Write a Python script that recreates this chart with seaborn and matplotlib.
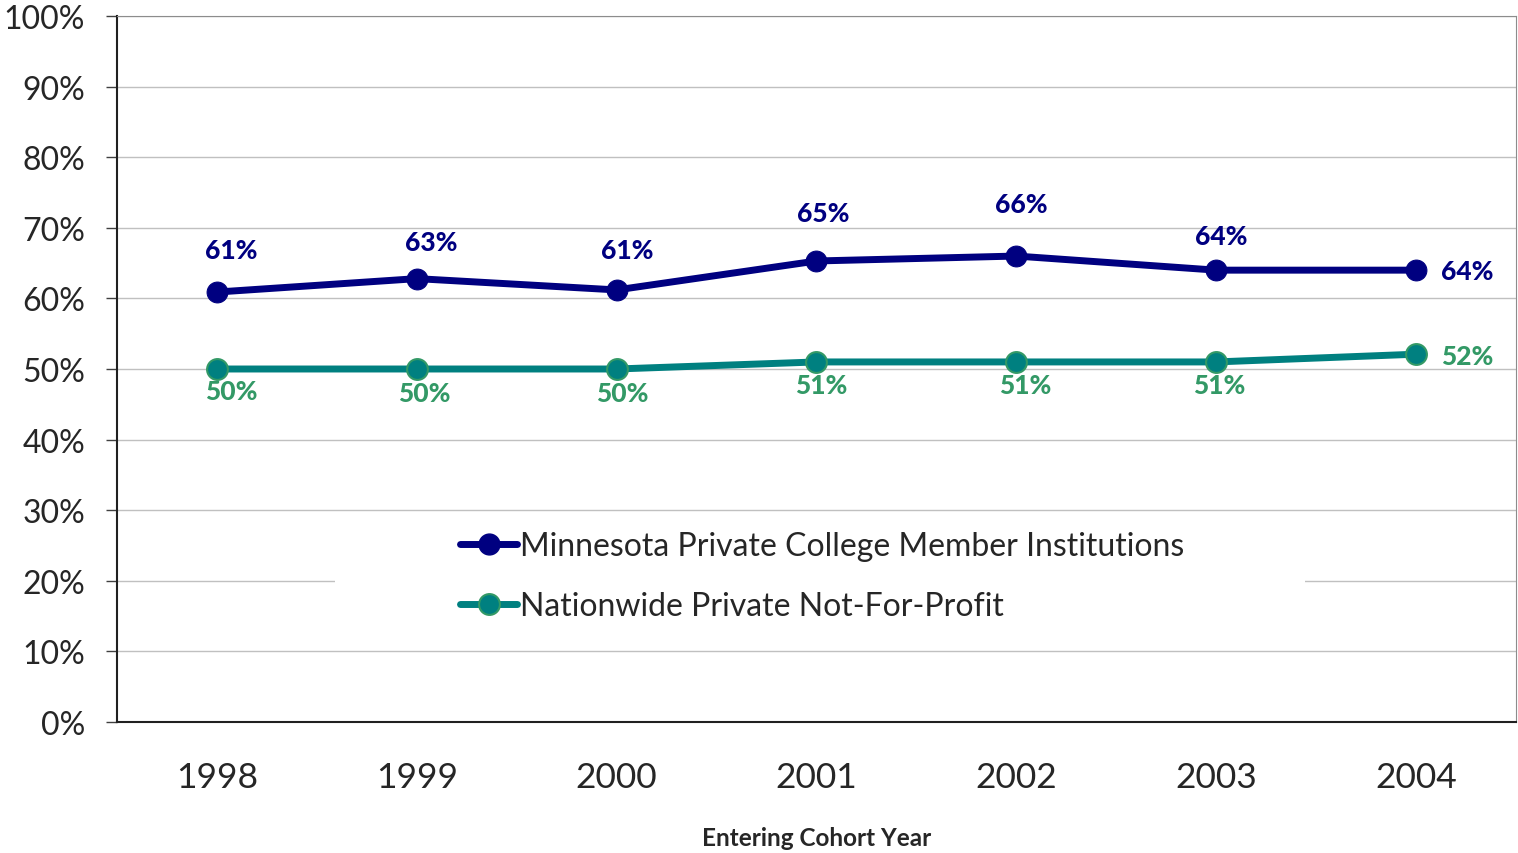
import numpy as np
import pandas as pd
import matplotlib
matplotlib.use('Agg')
import matplotlib.pyplot as plt
import seaborn as sns
from matplotlib.lines import Line2D
from matplotlib.patches import Rectangle

# data
years = ['1998', '1999', '2000', '2001', '2002', '2003', '2004']
minnesota = [60.9, 62.8, 61.2, 65.3, 66.0, 64.0, 64.0]
nationwide = [50.0, 50.0, 50.0, 51.0, 51.0, 51.0, 52.1]
mn_name = 'Minnesota Private College Member Institutions'
nat_name = 'Nationwide Private Not-For-Profit'

# label nudges (pixels), labels were hand-placed in the original
mn_offsets = [(14, 42), (14, 37), (11, 40), (7, 48), (5, 52), (5, 34)]
nat_offsets = [(14, -22), (8, -24), (6, -24), (5, -23), (9, -23), (3, -23)]

NAVY = '#000080'
TEAL = '#008080'
GREEN = '#339966'

sns.set_style('white')
plt.rcParams['font.family'] = ['Lato', 'DejaVu Sans']

fig = plt.figure(figsize=(15.18, 8.54), dpi=100)
ax = fig.add_axes([117 / 1518, 1 - 723 / 854, 1399 / 1518, 706 / 854])

x = np.arange(len(years))
df = pd.DataFrame({'x': x, 'mn': minnesota, 'nat': nationwide})

sns.lineplot(data=df, x='x', y='mn', ax=ax, color=NAVY, linewidth=5,
             marker='o', markersize=15, markeredgecolor=NAVY, zorder=5)
sns.lineplot(data=df, x='x', y='nat', ax=ax, color=TEAL, linewidth=5,
             marker='o', markersize=15, markeredgecolor=GREEN,
             markeredgewidth=1.5, zorder=5)

# data labels
lab_kw = dict(textcoords='offset pixels', fontsize=19, fontweight='black', va='center')
last = len(years) - 1
for i, v in enumerate(minnesota):
    if i == last:
        ax.annotate(f'{v:.0f}%', (i, v), xytext=(25, -1), ha='left', color=NAVY, **lab_kw)
    else:
        ax.annotate(f'{v:.0f}%', (i, v), xytext=mn_offsets[i], ha='center', color=NAVY, **lab_kw)
for i, v in enumerate(nationwide):
    if i == last:
        ax.annotate(f'{v:.0f}%', (i, v), xytext=(25, -2), ha='left', color=GREEN, **lab_kw)
    else:
        ax.annotate(f'{v:.0f}%', (i, v), xytext=nat_offsets[i], ha='center', color=GREEN, **lab_kw)

ax.set_xlim(-0.5, 6.5)
ax.set_ylim(0, 100)
ax.set_yticks(np.arange(0, 101, 10))
ax.set_yticklabels([f'{t}%' for t in range(0, 101, 10)], fontsize=23)
ax.set_xticks(x)
ax.set_xticklabels(years, fontsize=25.5)
ax.set_xticks(np.arange(-0.5, 7, 1), minor=True)
ax.tick_params(axis='x', which='major', length=0, pad=28)
ax.tick_params(axis='x', which='minor', length=9, width=1, color='#404040', direction='out')
ax.tick_params(axis='y', length=8, width=1, color='#404040', direction='out', left=True, pad=15)

ax.yaxis.grid(True, color='#c0c0c0', linewidth=1)
ax.set_axisbelow(True)
for s in ['top', 'right']:
    ax.spines[s].set_color('#8c8c8c')
for s in ['left', 'bottom']:
    ax.spines[s].set_color('#202020')
    ax.spines[s].set_linewidth(1.5)

ax.set_xlabel('Entering Cohort Year', fontsize=17.5, fontweight='bold', labelpad=24)
ax.set_ylabel('')

# legend area (white box covers gridlines)
ax.add_patch(Rectangle((0.156, 0.12), 0.693, 0.17, transform=ax.transAxes,
                       facecolor='white', edgecolor='none', zorder=3))
handles = [
    Line2D([], [], color=NAVY, linewidth=5, marker='o', markersize=15, markeredgecolor=NAVY),
    Line2D([], [], color=TEAL, linewidth=5, marker='o', markersize=15,
           markeredgecolor=GREEN, markeredgewidth=1.5),
]
leg = ax.legend(handles, [mn_name, nat_name], loc='center left',
                bbox_to_anchor=(0.245, 0.207), frameon=False, fontsize=23,
                handlelength=1.8, handletextpad=0.1, labelspacing=0.95, borderpad=0,
                borderaxespad=0)
leg.set_zorder(6)

fig.savefig('out.png', dpi=100)
